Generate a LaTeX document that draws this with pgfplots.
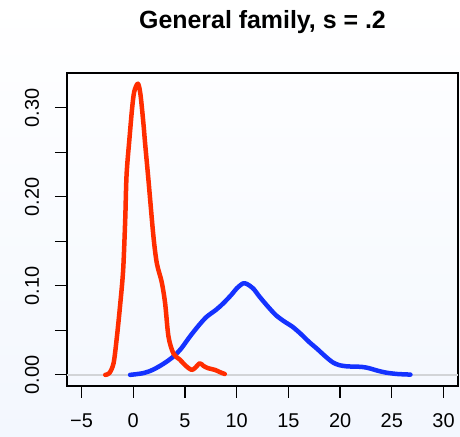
\documentclass[border=0pt]{standalone}
\usepackage{pgfplots}
\pgfplotsset{compat=1.18}
\usepackage{fontspec}
\setmainfont{Liberation Sans}
\definecolor{redline}{RGB}{255,45,0}
\definecolor{blueline}{RGB}{20,50,255}
\definecolor{bgbot}{RGB}{243,247,254}
\definecolor{zeroline}{RGB}{210,212,215}

\begin{document}
\begin{tikzpicture}[x=1bp,y=1bp]
\shade[top color=white,bottom color=bgbot] (0,0) rectangle (460,437);
\path[use as bounding box] (0,0) rectangle (460,437);
\node[font=\bfseries\fontsize{25}{30}\selectfont, anchor=base] at (262.5,408.5) {General family, s = .2};
\begin{axis}[
    at={(67bp,51bp)}, anchor=south west,
    width=391bp, height=313bp, scale only axis,
    xmin=-6.4, xmax=31.4,
    ymin=-0.0125, ymax=0.339,
    axis line style={line width=1.2bp},
    tick align=outside,
    xtick pos=bottom, ytick pos=left,
    major tick length=12bp,
    tick style={black, line width=1.2bp},
    xtick={-5,0,5,10,15,20,25,30},
    xticklabels={−5,0,5,10,15,20,25,30},
    ytick={0,0.05,0.1,0.15,0.2,0.25,0.3},
    yticklabels={0.00,,0.10,,0.20,,0.30},
    xticklabel style={font=\fontsize{20}{24}\selectfont, anchor=base, inner sep=0pt, yshift=-29bp},
    yticklabel style={font=\fontsize{20}{24}\selectfont, xshift=-16bp, rotate=90, anchor=base, inner sep=0pt},
    clip=false,
]
\addplot[zeroline, line width=1.3bp] coordinates {(-6.4,0)(31.4,0)};

\addplot[blueline, line width=4.5bp, line cap=round, line join=round, smooth, tension=0.5] coordinates {
(-0.3,0.000)(1.0,0.002)(1.95,0.006)(3.0,0.013)(3.88,0.0205)(4.6,0.029)
(5.48,0.043)(6.3,0.055)(7.08,0.065)(8.0,0.073)(8.68,0.080)(9.5,0.090)
(10.0,0.097)(10.6,0.1026)(11.0,0.102)(11.6,0.097)(12.2,0.088)(13.0,0.077)
(13.8,0.067)(14.6,0.060)(15.4,0.054)(16.2,0.046)(17.0,0.037)(17.8,0.029)
(18.6,0.0205)(19.3,0.014)(19.9,0.011)(20.7,0.0095)(21.5,0.0093)(22.2,0.0088)
(22.8,0.0075)(23.6,0.0048)(24.4,0.0026)(25.5,0.001)(26.8,0.0003)
};

\addplot[redline, line width=4.5bp, line cap=round, line join=round, smooth, tension=0.5] coordinates {
(-2.7,0.000)(-2.3,0.002)(-1.9,0.013)(-1.6,0.04)(-1.25,0.08)(-0.97,0.118)
(-0.77,0.175)(-0.64,0.225)(-0.35,0.267)(-0.1,0.300)(0.1,0.318)(0.45,0.327)
(0.7,0.315)(0.99,0.282)(1.15,0.26)(1.48,0.218)(1.96,0.155)(2.29,0.125)
(2.76,0.104)(3.09,0.080)(3.41,0.043)(3.89,0.024)(4.52,0.017)(5.1,0.010)
(5.64,0.0056)(6.0,0.008)(6.44,0.013)(6.8,0.010)(7.24,0.0075)(7.9,0.0056)
(8.4,0.003)(8.85,0.001)
};
\end{axis}
\end{tikzpicture}
\end{document}
